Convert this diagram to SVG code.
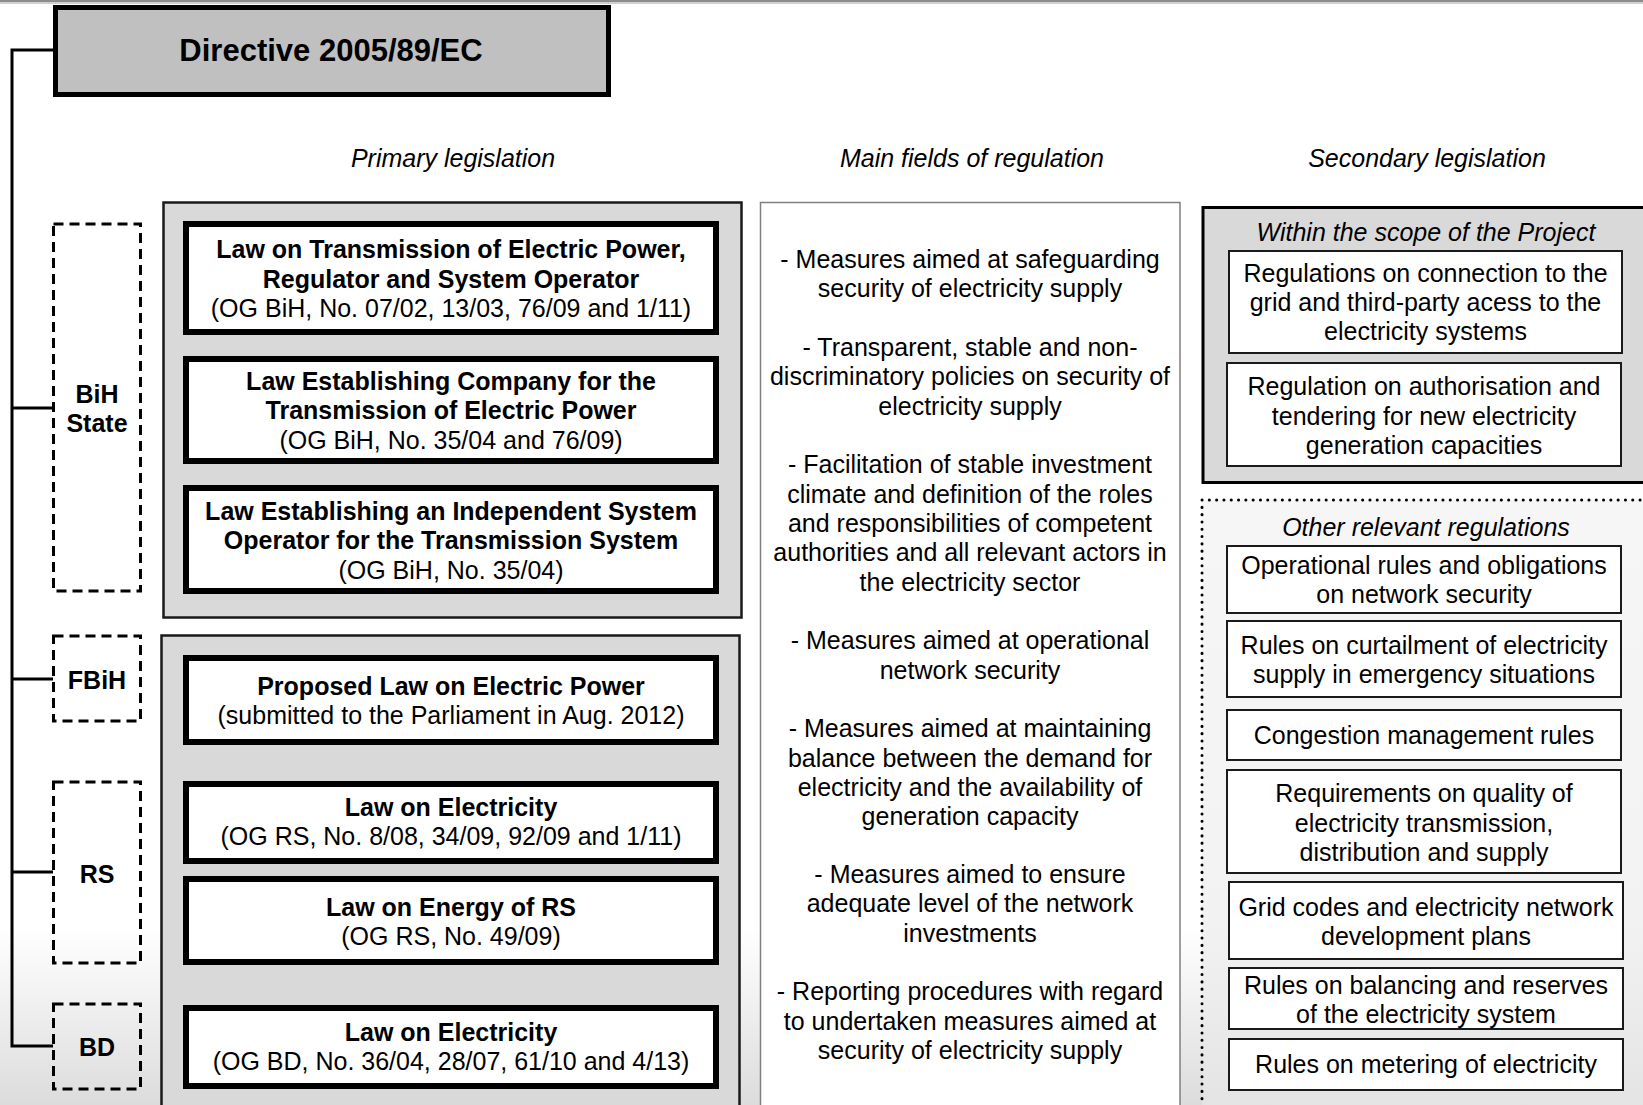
<svg xmlns="http://www.w3.org/2000/svg" width="1643" height="1105" viewBox="0 0 1643 1105">
<style>
text{font-family:"Liberation Sans",Arial,sans-serif;fill:#000;text-anchor:middle}
.b{font-weight:bold;font-size:25px}
.n{font-size:25px}
.i{font-style:italic;font-size:25px}
.law{fill:#fff;stroke:#000;stroke-width:6}
.reg{fill:#fff;stroke:#1a1a1a;stroke-width:2}
.dash{fill:none;stroke:#000;stroke-width:3;stroke-dasharray:10 6}
.panel{fill:#d9d9d9;stroke:#1a1a1a;stroke-width:2.5}
.conn{fill:none;stroke:#000;stroke-width:3}
</style>
<defs>
<linearGradient id="bg" x1="0" y1="0" x2="0" y2="1105" gradientUnits="userSpaceOnUse">
<stop offset="0" stop-color="#ffffff"/>
<stop offset="0.84" stop-color="#ffffff"/>
<stop offset="1" stop-color="#dcdcdc"/>
</linearGradient>
<linearGradient id="dot" x1="0" y1="500" x2="0" y2="1105" gradientUnits="userSpaceOnUse">
<stop offset="0" stop-color="#f6f6f6"/>
<stop offset="0.7" stop-color="#f2f2f2"/>
<stop offset="1" stop-color="#e4e4e4"/>
</linearGradient>
</defs>
<rect x="0" y="0" width="1643" height="1105" fill="url(#bg)"/>
<rect x="0" y="0" width="1643" height="2" fill="#8c8c8c"/>
<rect x="0" y="2" width="1643" height="2" fill="#cfcfcf"/>

<g id="directive">
<rect x="55.5" y="7.5" width="553" height="87" fill="#c0c0c0" stroke="#000" stroke-width="5"/>
<text x="331" y="61" style="font-weight:bold;font-size:31px">Directive 2005/89/EC</text>
</g>

<g id="headers">
<text class="i" x="453" y="167">Primary legislation</text>
<text class="i" x="972" y="167">Main fields of regulation</text>
<text class="i" x="1427" y="167">Secondary legislation</text>
</g>

<g id="connectors">
<path class="conn" d="M12,50 H55 M12,48.5 V1047.5 M12,408 H53 M12,679 H53 M12,872 H53 M12,1046 H53"/>
</g>

<g id="level-bih">
<rect class="dash" x="53.5" y="224" width="87" height="367"/>
<text class="b" x="97" y="402.5">BiH</text>
<text class="b" x="97" y="431.5">State</text>
</g>
<g id="level-fbih">
<rect class="dash" x="53.5" y="636" width="87" height="85"/>
<text class="b" x="97" y="689">FBiH</text>
</g>
<g id="level-rs">
<rect class="dash" x="53.5" y="782" width="87" height="181"/>
<text class="b" x="97" y="883">RS</text>
</g>
<g id="level-bd">
<rect class="dash" x="53.5" y="1004" width="87" height="85"/>
<text class="b" x="97" y="1055.5">BD</text>
</g>

<g id="panel-state">
<rect class="panel" x="163.5" y="202.5" width="578" height="415"/>
</g>
<g id="panel-entities">
<rect class="panel" x="161.5" y="635.5" width="578" height="500"/>
</g>

<g id="law1">
<rect class="law" x="186" y="224" width="530" height="108"/>
<text class="b" x="451" y="257.5">Law on Transmission of Electric Power,</text>
<text class="b" x="451" y="287.5">Regulator and System Operator</text>
<text class="n" x="451" y="316.5">(OG BiH, No. 07/02, 13/03, 76/09 and 1/11)</text>
</g>
<g id="law2">
<rect class="law" x="186" y="359" width="530" height="102"/>
<text class="b" x="451" y="389.5">Law Establishing Company for the</text>
<text class="b" x="451" y="418.5">Transmission of Electric Power</text>
<text class="n" x="451" y="448.5">(OG BiH, No. 35/04 and 76/09)</text>
</g>
<g id="law3">
<rect class="law" x="186" y="488" width="530" height="103"/>
<text class="b" x="451" y="519.5">Law Establishing an Independent System</text>
<text class="b" x="451" y="548.5">Operator for the Transmission System</text>
<text class="n" x="451" y="578.5">(OG BiH, No. 35/04)</text>
</g>
<g id="law4">
<rect class="law" x="186" y="658" width="530" height="84"/>
<text class="b" x="451" y="695">Proposed Law on Electric Power</text>
<text class="n" x="451" y="724">(submitted to the Parliament in Aug. 2012)</text>
</g>
<g id="law5">
<rect class="law" x="186" y="784" width="530" height="77"/>
<text class="b" x="451" y="815.5">Law on Electricity</text>
<text class="n" x="451" y="844.5">(OG RS, No. 8/08, 34/09, 92/09 and 1/11)</text>
</g>
<g id="law6">
<rect class="law" x="186" y="879" width="530" height="83"/>
<text class="b" x="451" y="915.5">Law on Energy of RS</text>
<text class="n" x="451" y="944.5">(OG RS, No. 49/09)</text>
</g>
<g id="law7">
<rect class="law" x="186" y="1008" width="530" height="78"/>
<text class="b" x="451" y="1041">Law on Electricity</text>
<text class="n" x="451" y="1070">(OG BD, No. 36/04, 28/07, 61/10 and 4/13)</text>
</g>

<g id="fields">
<rect x="760.5" y="202.5" width="419.5" height="920" fill="#fff" stroke="#7f7f7f" stroke-width="1.5"/>
<text class="n" x="970" y="268">- Measures aimed at safeguarding</text>
<text class="n" x="970" y="297">security of electricity supply</text>
<text class="n" x="970" y="356">- Transparent, stable and non-</text>
<text class="n" x="970" y="385">discriminatory policies on security of</text>
<text class="n" x="970" y="414.5">electricity supply</text>
<text class="n" x="970" y="473">- Facilitation of stable investment</text>
<text class="n" x="970" y="502.5">climate and definition of the roles</text>
<text class="n" x="970" y="532">and responsibilities of competent</text>
<text class="n" x="970" y="561">authorities and all relevant actors in</text>
<text class="n" x="970" y="590.5">the electricity sector</text>
<text class="n" x="970" y="649">- Measures aimed at operational</text>
<text class="n" x="970" y="678.5">network security</text>
<text class="n" x="970" y="737">- Measures aimed at maintaining</text>
<text class="n" x="970" y="766.5">balance between the demand for</text>
<text class="n" x="970" y="796">electricity and the availability of</text>
<text class="n" x="970" y="825">generation capacity</text>
<text class="n" x="970" y="883">- Measures aimed to ensure</text>
<text class="n" x="970" y="912">adequate level of the network</text>
<text class="n" x="970" y="941.5">investments</text>
<text class="n" x="970" y="1000">- Reporting procedures with regard</text>
<text class="n" x="970" y="1029.5">to undertaken measures aimed at</text>
<text class="n" x="970" y="1059">security of electricity supply</text>
</g>

<g id="scope-panel">
<rect x="1203" y="207.5" width="460" height="275" fill="#d9d9d9" stroke="#000" stroke-width="3"/>
<text class="i" x="1426" y="241">Within the scope of the Project</text>
</g>
<g id="reg-a">
<rect class="reg" x="1229" y="251" width="393" height="102"/>
<text class="n" x="1425.5" y="282">Regulations on connection to the</text>
<text class="n" x="1425.5" y="311">grid and third-party acess to the</text>
<text class="n" x="1425.5" y="340">electricity systems</text>
</g>
<g id="reg-b">
<rect class="reg" x="1227" y="363" width="394" height="103"/>
<text class="n" x="1424" y="395">Regulation on authorisation and</text>
<text class="n" x="1424" y="424.5">tendering for new electricity</text>
<text class="n" x="1424" y="454">generation capacities</text>
</g>

<g id="other-panel">
<rect x="1202" y="500" width="445" height="610" fill="url(#dot)"/>
<path d="M1202,500 H1643 M1202,500 V1105" fill="none" stroke="#000" stroke-width="3" stroke-linecap="round" stroke-dasharray="0.1 7.2"/>
<text class="i" x="1426" y="536">Other relevant regulations</text>
</g>
<g id="reg-c1">
<rect class="reg" x="1227" y="546" width="394" height="67"/>
<text class="n" x="1424" y="573.5">Operational rules and obligations</text>
<text class="n" x="1424" y="602.5">on network security</text>
</g>
<g id="reg-c2">
<rect class="reg" x="1227" y="621" width="394" height="76"/>
<text class="n" x="1424" y="654">Rules on curtailment of electricity</text>
<text class="n" x="1424" y="683">supply in emergency situations</text>
</g>
<g id="reg-c3">
<rect class="reg" x="1227" y="710" width="394" height="50"/>
<text class="n" x="1424" y="744">Congestion management rules</text>
</g>
<g id="reg-c4">
<rect class="reg" x="1227" y="770" width="394" height="103"/>
<text class="n" x="1424" y="802">Requirements on quality of</text>
<text class="n" x="1424" y="831.5">electricity transmission,</text>
<text class="n" x="1424" y="861">distribution and supply</text>
</g>
<g id="reg-c5">
<rect class="reg" x="1229" y="882" width="394" height="77"/>
<text class="n" x="1426" y="916">Grid codes and electricity network</text>
<text class="n" x="1426" y="945">development plans</text>
</g>
<g id="reg-c6">
<rect class="reg" x="1229" y="968" width="394" height="61"/>
<text class="n" x="1426" y="994">Rules on balancing and reserves</text>
<text class="n" x="1426" y="1023">of the electricity system</text>
</g>
<g id="reg-c7">
<rect class="reg" x="1229" y="1039" width="394" height="51"/>
<text class="n" x="1426" y="1073">Rules on metering of electricity</text>
</g>
</svg>
